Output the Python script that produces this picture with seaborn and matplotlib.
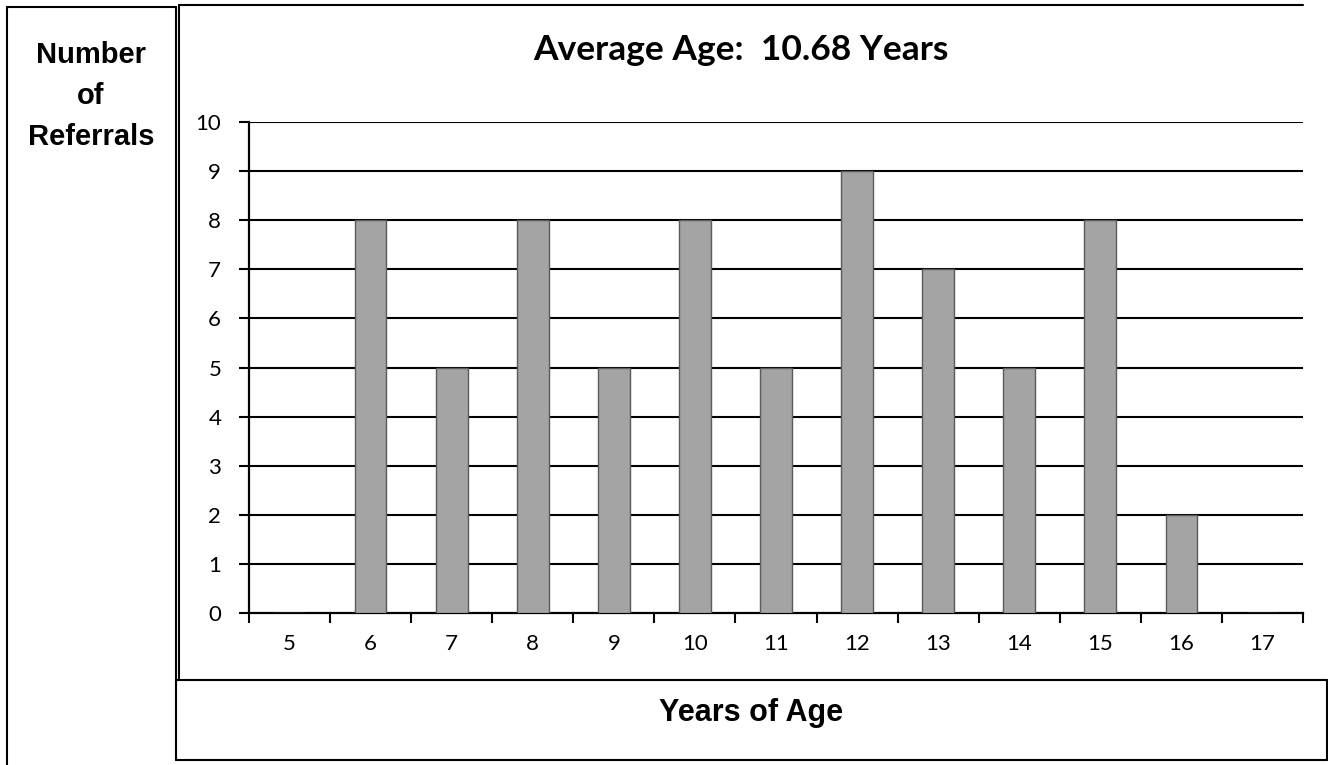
import matplotlib
matplotlib.use("Agg")
import matplotlib.pyplot as plt
import seaborn as sns
import pandas as pd
from matplotlib.lines import Line2D

ages = ["5", "6", "7", "8", "9", "10", "11", "12", "13", "14", "15", "16", "17"]
referrals = [0, 8, 5, 8, 5, 8, 5, 9, 7, 5, 8, 2, 0]
title = "Average Age:  10.68 Years"
ylabel_text = "Number\nof\nReferrals"
xlabel_text = "Years of Age"

sns.set_theme(style="white")
tick_font = ['Lato', 'DejaVu Sans']
label_font = ['Liberation Sans', 'DejaVu Sans']
plt.rcParams['font.family'] = tick_font
plt.rcParams['xtick.labelsize'] = 16
plt.rcParams['ytick.labelsize'] = 16
plt.rcParams['xtick.color'] = 'black'
plt.rcParams['ytick.color'] = 'black'

W, H = 1328, 765
fig = plt.figure(figsize=(W / 100, H / 100), dpi=100)
fig.patch.set_facecolor("white")

def fx(px):
    return px / W

def fy(py):
    return 1 - py / H

ax = fig.add_axes([fx(249), fy(613), fx(1303) - fx(249), fy(122) - fy(613)])

df = pd.DataFrame({"age": ages, "n": referrals})
sns.barplot(data=df, x="age", y="n", ax=ax, color="#a4a4a4", width=0.39,
            edgecolor="#5a5a5a", linewidth=1.0, saturation=1, zorder=3)

ax.set_xlim(-0.5, len(ages) - 0.5)
ax.set_ylim(0, 10)
ax.set_yticks(range(0, 11))
for v in range(1, 11):
    ax.axhline(v, color="black", lw=1.5, zorder=2)

ax.set_xticks(range(len(ages)))
ax.set_xticklabels(ages)
ax.tick_params(axis="x", which="major", length=0, pad=15, labelsize=16)
ax.set_xticks([i - 0.5 for i in range(len(ages) + 1)], minor=True)
ax.tick_params(axis="x", which="minor", length=7, width=1.5, color="black", direction="out", bottom=True)
ax.tick_params(axis="y", length=7, width=1.5, color="black", direction="out", left=True, pad=13,
               labelsize=16)
ax.set_xlabel("")
ax.set_ylabel("")
for s in ["top", "right"]:
    ax.spines[s].set_visible(False)
for s in ["left", "bottom"]:
    ax.spines[s].set_visible(True)
    ax.spines[s].set_color("black")
    ax.spines[s].set_linewidth(1.6)
ax.set_facecolor("white")

# Title
fig.text(fx(741), fy(50), title, ha="center", va="center", fontsize=25.5, fontweight="bold",
         family=tick_font, color="black")
# left label
fig.text(fx(91), fy(96), ylabel_text, ha="center", va="center", fontsize=21, fontweight="bold",
         linespacing=1.58, color="black", family=label_font)
# bottom label
fig.text(fx(751), fy(713), xlabel_text, ha="center", va="center", fontsize=22, fontweight="bold",
         color="black", family=label_font)

# frame lines
def seg(x0, y0, x1, y1, lw=1.5):
    fig.add_artist(Line2D([fx(x0), fx(x1)], [fy(y0), fy(y1)], color="black", lw=lw,
                          transform=fig.transFigure))

seg(7, 7, 7, 765)
seg(7, 7, 176, 7)
seg(176, 7, 176, 760)
seg(179, 5, 179, 680)
seg(179, 5, 1303, 5)
seg(176, 680, 1327, 680)
seg(176, 760, 1327, 760)
seg(1327, 680, 1327, 760)

fig.savefig("out.png", dpi=100, facecolor="white")
